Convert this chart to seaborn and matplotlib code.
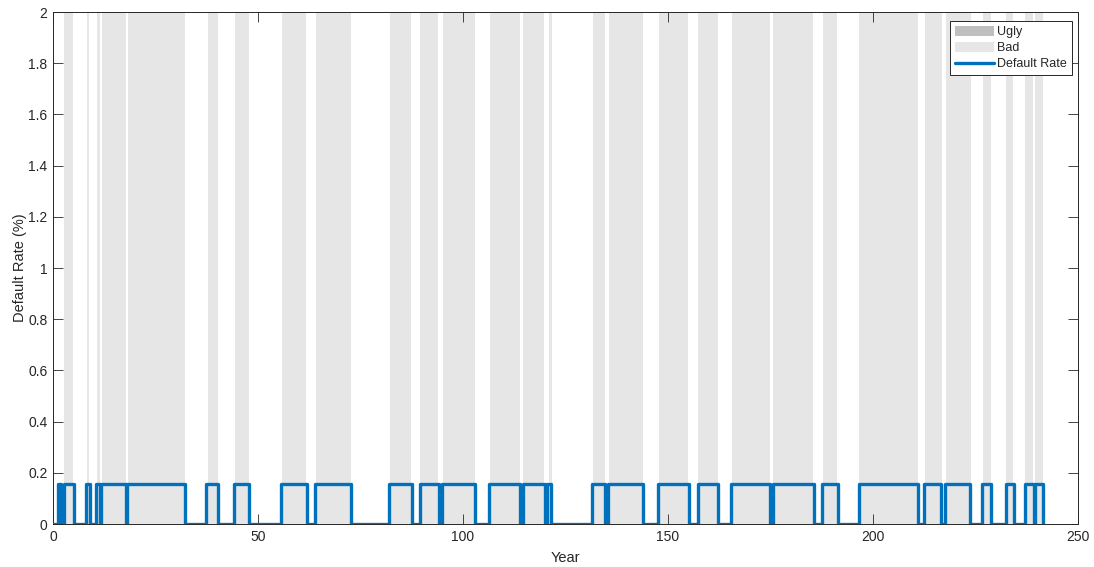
import matplotlib
matplotlib.use("Agg")
import matplotlib.pyplot as plt
from matplotlib.patches import Patch
from matplotlib.lines import Line2D
import seaborn as sns
import pandas as pd

# Periods (in years) during which the default rate is switched on
rate_starts = [1.3, 2.6, 8.0, 10.5, 11.7, 18.1, 37.4, 44.2, 55.7, 63.8,
               82.0, 89.4, 95.0, 106.3, 114.6, 120.6, 131.5, 135.4, 147.6, 157.3,
               165.3, 175.7, 187.6, 196.5, 212.4, 217.5, 226.7, 232.5, 237.0, 239.6]
rate_ends = [2.0, 5.0, 9.0, 11.4, 17.8, 32.1, 40.2, 47.8, 62.0, 72.8,
             87.6, 94.1, 102.9, 114.0, 119.9, 121.5, 134.6, 143.9, 155.0, 162.2,
             174.8, 185.5, 191.5, 211.0, 216.7, 223.7, 228.9, 234.5, 239.2, 241.4]
rate_level = 0.158  # default rate (%) while in a bad regime

# Shaded "Bad" regime spans (years)
bad_starts = [2.8, 8.3, 10.8, 12.0, 18.3, 37.9, 44.5, 55.9, 64.1, 82.3,
              89.6, 95.1, 106.5, 114.6, 121.0, 131.7, 135.6, 147.7, 157.3, 165.5,
              175.7, 187.8, 196.7, 212.6, 217.7, 226.8, 232.5, 237.1, 239.6]
bad_ends = [4.8, 8.9, 11.4, 17.7, 32.1, 40.2, 47.7, 61.7, 72.7, 87.3,
            93.9, 102.9, 114.0, 119.8, 121.6, 134.6, 143.9, 154.9, 162.2, 174.8,
            185.4, 191.1, 211.0, 216.9, 223.9, 228.7, 234.1, 239.1, 241.4]

# "Ugly" regime spans (none occur in this sample)
ugly_starts = []
ugly_ends = []

x_ticks = [0, 50, 100, 150, 200, 250]
y_ticks = [0, 0.2, 0.4, 0.6, 0.8, 1, 1.2, 1.4, 1.6, 1.8, 2]

line_color = "#0072BD"
bad_color = "#E6E6E6"
ugly_color = "#BFBFBF"
axis_color = "#262626"

sns.set_style("ticks")
plt.rcParams["font.family"] = ["Liberation Sans", "DejaVu Sans"]

# Step series built from the on/off periods
xs, ys = [0.0], [0.0]
for a, b in zip(rate_starts, rate_ends):
    xs += [a, a, b, b]
    ys += [0.0, rate_level, rate_level, 0.0]
df = pd.DataFrame({"Year": xs, "Rate": ys})

fig = plt.figure(figsize=(10.94, 5.67), dpi=100)
ax = fig.add_axes([53 / 1094, 1 - 524 / 567, 1025 / 1094, 512 / 567])

for a, b in zip(ugly_starts, ugly_ends):
    ax.axvspan(a, b, color=ugly_color, lw=0, zorder=0)
for a, b in zip(bad_starts, bad_ends):
    ax.axvspan(a, b, color=bad_color, lw=0, zorder=0)

sns.lineplot(data=df, x="Year", y="Rate", sort=False, estimator=None,
             color=line_color, lw=2.4, ax=ax, zorder=3)
for ln in ax.get_lines():
    ln.set_solid_joinstyle("round")

ax.set_xlim(0, 250)
ax.set_ylim(0, 2)
ax.set_xticks(x_ticks)
ax.set_xticklabels([str(t) for t in x_ticks])
ax.set_yticks(y_ticks)
ax.set_yticklabels(["0", "0.2", "0.4", "0.6", "0.8", "1", "1.2", "1.4", "1.6", "1.8", "2"])
ax.tick_params(direction="in", length=7, width=0.6, colors=axis_color,
               labelsize=10, top=True, right=True, pad=4)
for s in ax.spines.values():
    s.set_visible(True)
    s.set_color(axis_color)
    s.set_linewidth(0.7)

ax.set_xlabel("Year", fontsize=10.5, color=axis_color, labelpad=5)
ax.set_ylabel("Default Rate (%)", fontsize=10.5, color=axis_color, labelpad=1)

handles = [Patch(facecolor=ugly_color, edgecolor="none"),
           Patch(facecolor=bad_color, edgecolor="none"),
           Line2D([0], [0], color=line_color, lw=2.4)]
leg = ax.legend(handles, ["Ugly", "Bad", "Default Rate"], loc="upper right",
                bbox_to_anchor=(1 - 6 / 1025, 1 - 9 / 512), borderaxespad=0,
                fontsize=9, frameon=True, fancybox=False, handlelength=3.1,
                handleheight=0.85, labelspacing=0.3, handletextpad=0.3,
                borderpad=0.4)
leg.get_frame().set_edgecolor(axis_color)
leg.get_frame().set_linewidth(0.7)
leg.get_frame().set_alpha(1)

fig.savefig("out.png", dpi=100)
